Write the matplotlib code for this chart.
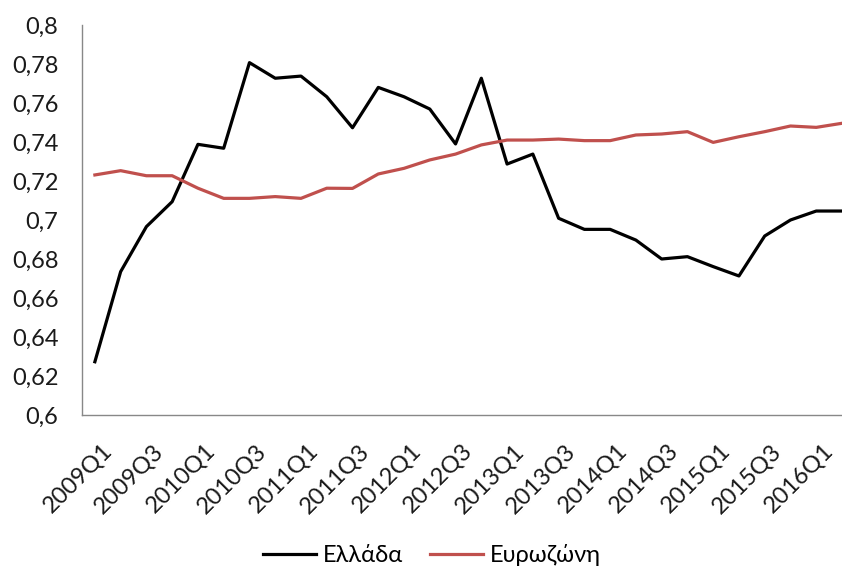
import matplotlib
matplotlib.use("Agg")
import matplotlib.pyplot as plt
from matplotlib.ticker import FuncFormatter
from matplotlib.transforms import ScaledTranslation

quarters = [f"{y}Q{q}" for y in range(2009, 2017) for q in range(1, 5)][:30]

greece = [0.6273, 0.6735, 0.6966, 0.7094, 0.7388, 0.7368, 0.7807, 0.7727,
          0.7738, 0.7632, 0.7473, 0.7680, 0.7632, 0.7569, 0.7390, 0.7727,
          0.7287, 0.7338, 0.7009, 0.6952, 0.6952, 0.6897, 0.6800, 0.6812,
          0.6761, 0.6713, 0.6918, 0.7000, 0.7046, 0.7046]

eurozone = [0.7231, 0.7253, 0.7227, 0.7227, 0.7163, 0.7111, 0.7111, 0.7120,
            0.7111, 0.7163, 0.7162, 0.7236, 0.7265, 0.7308, 0.7338, 0.7385,
            0.7410, 0.7410, 0.7415, 0.7407, 0.7407, 0.7436, 0.7441, 0.7453,
            0.7398, 0.7427, 0.7453, 0.7482, 0.7475, 0.7496]

plt.rcParams['font.family'] = ['Lato', 'DejaVu Sans']

fig = plt.figure(figsize=(8.42, 5.68), dpi=100)
ax = fig.add_axes([82 / 842, 1 - 415 / 568, 1 - 82 / 842, 390 / 568])

x = list(range(len(quarters)))
ax.plot(x, greece, color='black', linewidth=2.3, label='Ελλάδα')
ax.plot(x, eurozone, color='#C0504D', linewidth=2.3, label='Ευρωζώνη')

ax.set_xlim(-0.5, 29)
ax.set_ylim(0.6, 0.8)
ax.set_yticks([0.6 + 0.02 * i for i in range(11)])


def comma_fmt(v, pos):
    s = f"{v:.2f}".rstrip('0').rstrip('.')
    return s.replace('.', ',')


ax.yaxis.set_major_formatter(FuncFormatter(comma_fmt))
ax.set_xticks(x[::2])
ax.set_xticklabels(quarters[::2], rotation=45, ha='right', va='top',
                   rotation_mode='anchor')
ax.tick_params(axis='both', length=0, labelsize=17, colors='#1a1a1a')
ax.tick_params(axis='y', pad=17)
ax.tick_params(axis='x', pad=18)
shift = ScaledTranslation(0.06, 0, fig.dpi_scale_trans)
for lab in ax.get_xticklabels():
    lab.set_transform(lab.get_transform() + shift)

for s in ['top', 'right']:
    ax.spines[s].set_visible(False)
for s in ['left', 'bottom']:
    ax.spines[s].set_color('#888888')
    ax.spines[s].set_linewidth(1)

fig.legend(loc='center', ncol=2, frameon=False, fontsize=17,
           bbox_to_anchor=(0.513, 0.023), handlelength=2.25, columnspacing=1.15,
           handletextpad=0.3)

fig.savefig('out.png', dpi=100)
